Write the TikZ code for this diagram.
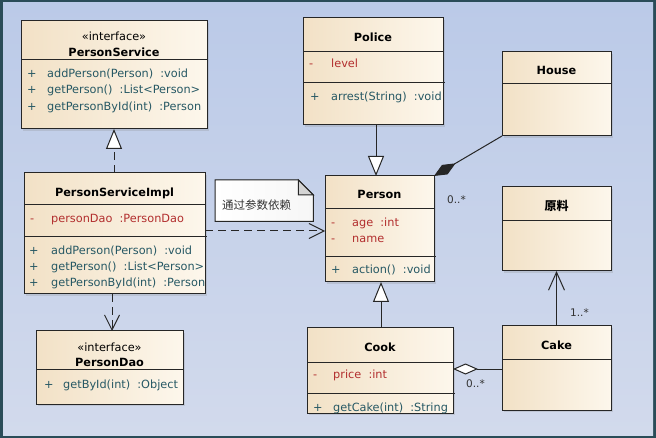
\documentclass[tikz,border=0pt]{standalone}
\usepackage{fontspec}
\setmainfont{DejaVu Sans}
\newfontfamily\cjk{Noto Sans CJK SC}
\usetikzlibrary{arrows.meta,shadows,calc}
\definecolor{bgT}{RGB}{187,202,232}
\definecolor{bgB}{RGB}{210,218,236}
\definecolor{frameC}{RGB}{42,76,88}
\definecolor{boxL}{RGB}{242,225,198}
\definecolor{boxR}{RGB}{253,247,236}
\definecolor{meth}{RGB}{38,88,100}
\definecolor{attr}{RGB}{178,46,46}
\definecolor{foldC}{RGB}{212,212,212}
\begin{document}
\begin{tikzpicture}[x=1pt,y=-1pt,
  font=\fontsize{11.3}{13}\selectfont,
  cls/.style={draw=black!85, line width=1pt, left color=boxL, right color=boxR,
    anchor=north west, inner sep=0pt, outer sep=0pt,
    drop shadow={opacity=0.22, shadow xshift=2pt, shadow yshift=-2pt}},
  div/.style={draw=black!85, line width=1pt},
  ttl/.style={font=\fontsize{11.3}{13}\selectfont\bfseries, inner sep=0pt, anchor=mid, yshift=-1.5pt},
  stereo/.style={inner sep=0pt, anchor=mid, yshift=-1.5pt},
  op/.style={text=meth, inner sep=0pt, anchor=mid west, yshift=-1.5pt},
  att/.style={text=attr, inner sep=0pt, anchor=mid west, yshift=-1.5pt},
  mult/.style={text=black!80, inner sep=0pt, anchor=mid west, yshift=-1pt, font=\fontsize{10.5}{12}\selectfont},
  conn/.style={draw=black!85, line width=1pt},
  dsh/.style={dash pattern=on 8pt off 5pt},
  dep/.style={conn, dsh, -{Straight Barb[length=15pt,width=15pt,line width=1pt]}},
  gen/.style={conn, -{Triangle[length=20pt,width=16pt,fill=white,line width=1pt]}},
  real/.style={gen, dsh},
  comp/.style={conn, -{Diamond[length=25pt,width=11pt]}},
  agg/.style={conn, -{Diamond[length=25pt,width=11pt,fill=white,line width=1pt]}},
  assoc/.style={conn, -{Straight Barb[length=18pt,width=16pt,line width=1pt]}}
]
\useasboundingbox (0,0) rectangle (656,438);
\fill[frameC] (0,0) rectangle (656,438);
\shade[top color=bgT, bottom color=bgB] (3,3) rectangle (653,435);

% PersonService
\node[cls, minimum width=186pt, minimum height=108pt] (ps) at (21,21) {};
\draw[div] (21,60) -- (207,60);
\node[stereo] (ps-st) at (114,36) {«interface»};
\node[ttl] (ps-t) at (114,52) {PersonService};
\node[op] (ps-p1) at (27,73) {+};
\node[op] (ps-m1) at (47,73) {addPerson(Person)\ \ :void};
\node[op] (ps-p2) at (27,89) {+};
\node[op] (ps-m2) at (47,89) {getPerson()\ \ :List<Person>};
\node[op] (ps-p3) at (27,106) {+};
\node[op] (ps-m3) at (47,106) {getPersonById(int)\ \ :Person};

% PersonServiceImpl
\node[cls, minimum width=181pt, minimum height=121pt] (psi) at (24,173) {};
\draw[div] (24,205) -- (205,205);
\draw[div] (24,237) -- (207,237);
\node[ttl] (psi-t) at (114.5,192) {PersonServiceImpl};
\node[att] (psi-a1m) at (30,218) {-};
\node[att] (psi-a1) at (51,218) {personDao\ \ :PersonDao};
\node[op] (psi-p1) at (29,250) {+};
\node[op] (psi-m1) at (51,250) {addPerson(Person)\ \ :void};
\node[op] (psi-p2) at (29,266) {+};
\node[op] (psi-m2) at (51,266) {getPerson()\ \ :List<Person>};
\node[op] (psi-p3) at (29,282) {+};
\node[op] (psi-m3) at (51,282) {getPersonById(int)\ \ :Person};

% Note
\node[inner sep=0pt, minimum width=98pt, minimum height=41pt, anchor=north west] (note) at (215,180) {};
\filldraw[draw=black!85, line width=1pt, left color=white, right color=white!93!gray]
  (note.north west) -- ($(note.north east)+(-15,0)$) -- ($(note.north east)+(0,15)$)
  -- (note.south east) -- (note.south west) -- cycle;
\filldraw[draw=black!85, line width=1pt, fill=foldC]
  ($(note.north east)+(-15,0)$) -- ($(note.north east)+(-15,15)$) -- ($(note.north east)+(0,15)$) -- cycle;
\node[inner sep=0pt, anchor=mid west, text=black!80, font=\cjk\fontsize{11.5}{13}\selectfont] (note-t) at (222,207) {通过参数依赖};

% PersonDao
\node[cls, minimum width=147pt, minimum height=73pt] (pdao) at (36,331) {};
\draw[div] (36,369) -- (183,369);
\node[stereo] (pdao-st) at (109.5,347) {«interface»};
\node[ttl] (pdao-t) at (109.5,362) {PersonDao};
\node[op] (pdao-p1) at (44,384) {+};
\node[op] (pdao-m1) at (63,384) {getById(int)\ \ :Object};

% Police
\node[cls, minimum width=140pt, minimum height=107pt] (police) at (303,18) {};
\draw[div] (303,52) -- (443,52);
\draw[div] (303,83) -- (445,83);
\node[ttl] (police-t) at (373,37) {Police};
\node[att] (police-a1m) at (309,63) {-};
\node[att] (police-a1) at (331,63) {level};
\node[op] (police-p1) at (310,96) {+};
\node[op] (police-m1) at (331,96) {arrest(String)\ \ :void};

% Person
\node[cls, minimum width=109pt, minimum height=106pt] (person) at (325,176) {};
\draw[div] (325,209) -- (434,209);
\draw[div] (325,257) -- (436,257);
\node[ttl] (person-t) at (379.5,194) {Person};
\node[att] (person-a1m) at (331,222) {-};
\node[att] (person-a1) at (352,222) {age\ \ :int};
\node[att] (person-a2m) at (331,238) {-};
\node[att] (person-a2) at (352,238) {name};
\node[op] (person-p1) at (331,269) {+};
\node[op] (person-m1) at (352,269) {action()\ \ :void};

% House
\node[cls, minimum width=109pt, minimum height=84pt] (house) at (502,52) {};
\draw[div] (502,84) -- (611,84);
\node[ttl] (house-t) at (556.5,70) {House};

% Yuanliao
\node[cls, minimum width=109pt, minimum height=84pt] (yl) at (502,187) {};
\draw[div] (502,221) -- (611,221);
\node[ttl, font=\cjk\fontsize{12}{14}\selectfont\bfseries] (yl-t) at (556.5,206) {原料};

% Cake
\node[cls, minimum width=109pt, minimum height=84pt] (cake) at (502,326) {};
\draw[div] (502,359) -- (611,359);
\node[ttl] (cake-t) at (556.5,345) {Cake};

% Cook
\node[cls, minimum width=146pt, minimum height=85pt] (cook) at (307,328) {};
\draw[div] (307,362) -- (453,362);
\draw[div] (307,393) -- (455,393);
\node[ttl] (cook-t) at (380,347) {Cook};
\node[att] (cook-a1m) at (313,374) {-};
\node[att] (cook-a1) at (333,374) {price\ \ :int};
\node[op] (cook-p1) at (313,407) {+};
\node[op] (cook-m1) at (333,407) {getCake(int)\ \ :String};

% Connectors
\draw[real] ($(psi.north west)+(90,0)$) -- ($(ps.south west)+(93,0)$);
\draw[dep] ($(psi.north east)+(0,58)$) -- ($(person.north west)+(0,55)$);
\draw[dep] ($(psi.south west)+(88,0)$) -- ($(pdao.north west)+(76,0)$);
\draw[gen] ($(police.south west)+(73,0)$) -- ($(person.north west)+(51,0)$);
\draw[comp] (house.south west) -- (person.north east);
\draw[gen] ($(cook.north west)+(74,0)$) -- ($(person.south west)+(56,0)$);
\draw[agg] ($(cake.north west)+(0,43)$) -- ($(cook.north east)+(0,41)$);
\draw[assoc] (cake.north) -- (yl.south);

% Multiplicities
\node[mult] (m1) at (447,200) {0..*};
\node[mult] (m2) at (466,384) {0..*};
\node[mult] (m3) at (570,313) {1..*};
\end{tikzpicture}
\end{document}
